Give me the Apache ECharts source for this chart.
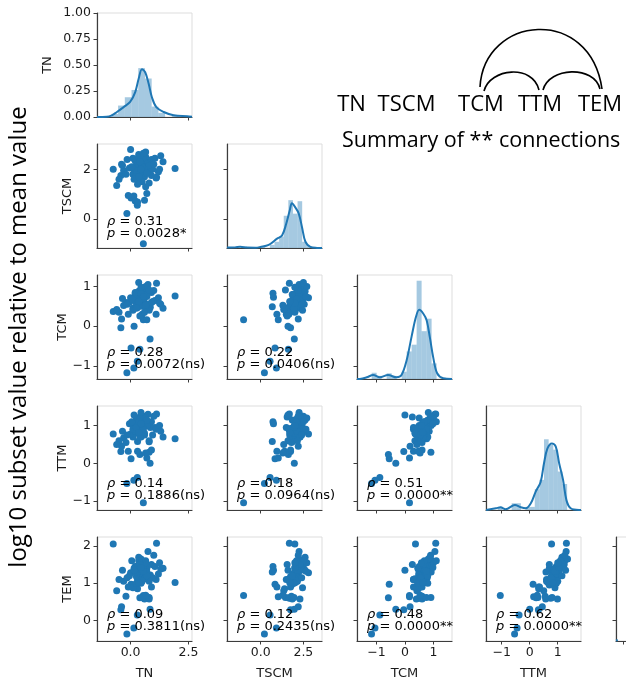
<!DOCTYPE html>
<html><head><meta charset="utf-8">
<script src="https://cdn.jsdelivr.net/npm/echarts@6/dist/echarts.min.js"></script>
<style>html,body{margin:0;padding:0;background:#fff}#c{width:626px;height:681px}</style>
</head><body><div id="c"></div>
<script>
// ---------- data ----------
const varNames = ['TN', 'TSCM', 'TCM', 'TTM', 'TEM'];

const TN = [0.55,-0.16,0.14,0.29,0.02,0.4,0.84,1.92,-0.75,1.12,-0.42,-0.39,0.2,0.6,0.3,0.7,-0.1,
0.45,0.3,0.7,0.5,0.1,0.9,0.35,0.6,-0.3,0.2,0.55,0.8,1.05,0.4,-0.5,0.65,0.25,0.0,1.3,0.5,
0.75,0.15,0.45,-0.6,0.85,0.35,0.6,1.1,0.2,0.55,-0.2,0.95,0.4,0.7,0.25,1.4,0.5,-0.05,0.65,0.3,
0.8,0.45,0.1,1.2,0.6,-0.35,0.35,0.9,0.5,0.15,0.7,0.4,1.0,0.25,0.55,-0.15,0.8,0.45,0.65,0.05,1.25,0.35];
const TSCM = [-1.0,0.22,0.92,0.55,0.84,1.62,1.97,2.03,2.0,1.68,1.75,2.2,0.72,0.75,0.68,1.03,0.95,
2.1,1.9,2.3,2.0,1.8,2.4,2.2,1.7,1.95,2.35,2.15,1.85,2.45,2.05,1.6,2.5,1.75,2.8,2.55,1.5,
2.25,2.0,1.9,1.35,2.1,2.6,2.3,1.65,2.1,2.4,1.8,2.0,1.55,2.2,2.35,2.3,1.95,2.05,2.7,1.4,
2.15,2.25,2.45,1.9,2.0,2.15,2.5,1.75,2.1,1.6,1.85,2.3,2.2,1.95,2.65,2.4,1.45,2.0,1.3,2.1,2.0,1.7];
const TCM = [0.16,-1.17,-1.05,-0.88,-0.55,-0.58,-0.32,0.76,0.37,1.08,-0.04,0.18,0.83,0.73,0.49,0.16,0.3,
0.62,0.55,0.75,0.68,0.45,0.85,0.6,0.5,0.52,0.7,0.9,0.4,0.65,0.78,0.35,0.95,0.58,0.72,0.55,0.3,
1.05,0.65,0.8,0.42,0.48,0.88,0.6,0.3,0.85,0.7,0.6,0.62,0.26,0.92,0.5,0.45,0.75,0.6,1.0,0.47,
0.55,0.82,0.4,0.72,0.35,0.7,1.1,0.6,0.5,0.0,0.8,0.65,0.9,0.45,0.75,0.55,0.91,0.98,0.53,0.68,0.58,0.62];
const TTM = [-1.05,-0.54,-0.45,-0.38,0.12,0.23,0.0,0.65,0.78,1.31,0.31,0.45,1.1,1.05,0.58,0.14,0.32,
0.88,0.8,1.0,0.95,0.7,1.1,0.9,0.75,0.68,1.05,1.2,0.57,0.95,0.85,0.6,1.25,0.92,0.78,0.85,0.95,
1.3,1.0,0.7,0.5,0.95,1.15,0.99,0.9,0.85,1.1,0.55,0.75,1.23,1.0,1.2,0.7,0.8,1.05,1.2,0.32,
0.6,1.35,0.9,0.95,0.8,0.85,1.1,0.35,1.0,1.28,1.15,0.7,1.25,0.95,0.9,0.75,0.29,1.05,0.27,1.1,1.0,0.82];
const TEM = [0.67,-0.36,-0.2,0.15,0.97,0.61,0.3,1.02,2.05,2.07,0.29,0.37,1.45,1.35,1.3,0.64,0.9,
1.2,1.1,1.4,1.3,0.95,1.5,1.25,0.6,1.05,1.35,1.55,0.58,1.45,1.15,1.1,1.6,1.18,1.28,1.38,1.1,
1.85,1.4,1.0,0.8,1.22,1.7,0.58,1.1,1.3,1.48,0.65,1.15,1.5,1.3,1.45,1.4,0.62,1.2,1.55,0.85,
1.05,1.65,0.88,1.25,1.12,1.35,1.6,0.9,1.05,1.35,1.2,1.5,1.75,1.0,1.32,1.15,0.62,1.42,0.68,1.6,1.55,1.02];

// histograms on the diagonal: first edge, bin width, bar heights (density)
const histStart = [-0.83, -1.08, -1.34, -1.14, 0];
const histWidth = [0.29, 0.27, 0.175, 0.165, 0.2];
const histTN   = [0.06,0.22,0.38,0.52,0.94,0.74,0.20,0.08,0,0.04];
const histTSCM = [0.03,0,0,0,0.03,0,0.06,0.12,0.22,0.62,0.92,0.66,0.90,0.12,0.03];
const histTCM  = [0,0.12,0.06,0,0.11,0.06,0,0.14,0.53,0.66,1.89,0.92,1.16,0.30];
const histTTM  = [0.06,0,0,0.13,0.13,0,0.06,0.06,0.4,0.58,1.36,1.25,1.16,0.74,0.5];
const histTEM  = [];

// density curves on the diagonal: [value, density]
const kdeTN = [[-1.45,0],[-1.03,0.004],[-0.81,0.032],[-0.59,0.096],[-0.30,0.19],[-0.02,0.29],[0.20,0.48],[0.35,0.74],[0.49,0.92],[0.63,0.86],[0.78,0.64],[0.92,0.38],[1.11,0.19],[1.43,0.096],[1.86,0.032],[2.44,0.014],[2.65,0.006]];
const kdeTSCM = [[-1.97,0.008],[-1.5,0.012],[-1.2,0.024],[-0.8,0.008],[-0.3,0.006],[-0.02,0.02],[0.47,0.06],[0.96,0.18],[1.25,0.24],[1.50,0.47],[1.70,0.72],[1.83,0.86],[2.03,0.78],[2.23,0.66],[2.42,0.40],[2.62,0.12],[2.91,0.02],[3.3,0.002],[3.59,0]];
const kdeTCM = [[-1.68,0],[-1.58,0.002],[-1.34,0.032],[-1.11,0.076],[-0.88,0.032],[-0.59,0.076],[-0.29,0.032],[-0.12,0.076],[0.06,0.36],[0.235,0.82],[0.39,1.2],[0.50,1.33],[0.64,1.26],[0.76,1.13],[0.88,0.78],[0.99,0.42],[1.13,0.11],[1.34,0.014],[1.65,0]];
const kdeTTM = [[-1.56,0],[-1.21,0.032],[-1.04,0.052],[-0.86,0.014],[-0.53,0.096],[-0.32,0.052],[-0.14,0.032],[0.04,0.128],[0.21,0.35],[0.39,0.54],[0.51,0.9],[0.63,1.18],[0.79,1.28],[0.93,1.22],[1.05,0.9],[1.19,0.58],[1.31,0.19],[1.46,0.032],[1.76,0],[1.83,0]];
const kdeTEM = [[-1.2,0.006],[-0.9,0.02]];

// correlation annotations, lower panels in order (row, col)
const statPanels = [[1,0],[2,0],[2,1],[3,0],[3,1],[3,2],[4,0],[4,1],[4,2],[4,3]];
const rhoVals = ['0.31','0.28','0.22','0.14','0.18','0.51','0.09','0.12','0.48','0.62'];
const pVals = ['0.0028*','0.0072(ns)','0.0406(ns)','0.1886(ns)','0.0964(ns)','0.0000**','0.3811(ns)','0.2435(ns)','0.0000**','0.0000**'];

// tick labels
const xTickVals = [[0, 2.5], [0, 2.5], [-1, 0, 1], [-1, 0, 1], [0, 1, 2]];
const yTickVals = [[0, 0.25, 0.5, 0.75, 1], [0, 2], [-1, 0, 1], [-1, 0, 1], [0, 1, 2]];

const summaryWords = ['TN', 'TSCM', 'TCM', 'TTM', 'TEM'];
const summaryTitle = 'Summary of ** connections';
const bigYLabel = 'log10 subset value relative to mean value';

// ---------- layout ----------
const cols = [TN, TSCM, TCM, TTM, TEM];
const hists = [histTN, histTSCM, histTCM, histTTM, histTEM];
const kdes = [kdeTN, kdeTSCM, kdeTCM, kdeTTM, kdeTEM];
const xRanges = [[-1.45, 2.65], [-1.97, 3.59], [-1.68, 1.65], [-1.56, 1.83], [-1.2, 2.9]];
const yRanges = [[0, 1], [-1.17, 3.02], [-1.33, 1.29], [-1.24, 1.52], [-0.55, 2.24]];
const colLeft = [97, 227, 357, 486, 616];
const rowTop = [13, 144, 275, 406, 537];
const W = 95, H = 104;
const densMax = 2;
const BLUE = '#1f77b4';
const TXT = '#1a1a1a';
const FONT = 'DejaVu Sans';
const FS = 12.5;

function fmt(v, dec) {
  const s = Math.abs(v).toFixed(dec);
  return (v < 0 ? '\u2212' : '') + s;
}
const xDecs = [1, 1, 0, 0, 0];

const grids = [], xAxes = [], yAxes = [], series = [];
let gi = 0;
for (let r = 0; r < 5; r++) {
  for (let c = 0; c <= r; c++) {
    grids.push({left: colLeft[c], top: rowTop[r], width: W, height: H, show: true,
      borderColor: '#dddddd', borderWidth: 1, backgroundColor: 'transparent'});
    const axLine = {show: true, onZero: false, lineStyle: {color: '#3c3c3c', width: 1.2}};
    const axTick = (vals) => ({show: true, length: 3.5, customValues: vals, lineStyle: {color: '#3c3c3c', width: 1}});
    const xi = xAxes.length;
    const showX = r === 4 && c < 4;
    xAxes.push({
      gridIndex: gi, type: 'value', min: xRanges[c][0], max: xRanges[c][1],
      axisLine: axLine, axisTick: axTick(xTickVals[c]), splitLine: {show: false},
      axisLabel: {show: showX, customValues: xTickVals[c], margin: 5, color: TXT, fontSize: FS, fontFamily: FONT,
        formatter: (v) => fmt(v, xDecs[c])},
      name: showX ? varNames[c] : '', nameLocation: 'middle', nameGap: 26,
      nameTextStyle: {color: TXT, fontSize: 13, fontFamily: FONT}
    });
    const yi = yAxes.length;
    yAxes.push({
      gridIndex: gi, type: 'value', min: yRanges[r][0], max: yRanges[r][1],
      axisLine: axLine, axisTick: axTick(yTickVals[r]), splitLine: {show: false},
      axisLabel: {show: c === 0, customValues: yTickVals[r], margin: 6, color: TXT, fontSize: FS, fontFamily: FONT,
        formatter: (v) => r === 0 ? v.toFixed(2) : fmt(v, 0)},
      name: c === 0 ? varNames[r] : '', nameLocation: 'middle', nameGap: r === 0 ? 43 : 23,
      nameTextStyle: {color: TXT, fontSize: 13, fontFamily: FONT}
    });
    if (r === c) {
      const di = yAxes.length;
      yAxes.push({gridIndex: gi, type: 'value', min: 0, max: densMax, show: false});
      const hd = hists[c].map((h, k) => [histStart[c] + k * histWidth[c], histStart[c] + (k + 1) * histWidth[c], h]);
      series.push({
        type: 'custom', xAxisIndex: xi, yAxisIndex: di, data: hd, silent: true, clip: true,
        encode: {x: [0, 1], y: 2},
        renderItem: function (params, api) {
          const p0 = api.coord([api.value(0), api.value(2)]);
          const p1 = api.coord([api.value(1), 0]);
          return {type: 'rect', shape: {x: p0[0], y: p0[1], width: p1[0] - p0[0], height: p1[1] - p0[1]},
            style: {fill: 'rgba(31,119,180,0.4)'}};
        }
      });
      series.push({
        type: 'line', xAxisIndex: xi, yAxisIndex: di, data: kdes[c], smooth: 0.35,
        showSymbol: false, silent: true, clip: true,
        lineStyle: {color: BLUE, width: 2}
      });
    } else {
      series.push({
        type: 'scatter', xAxisIndex: xi, yAxisIndex: yi, silent: true,
        data: cols[c].map((v, i) => [v, cols[r][i]]),
        symbolSize: 7, itemStyle: {color: BLUE, opacity: 1}
      });
    }
    gi++;
  }
}

const graphics = [];
statPanels.forEach(([r, c], k) => {
  const x = colLeft[c] + 10, yb = rowTop[r] + H;
  const rich = {i: {fontStyle: 'italic', fontSize: 13, fontFamily: FONT, fill: '#000'}};
  graphics.push({type: 'text', x: x, y: yb - 26, z: 100, silent: true,
    style: {text: '{i|\u03c1} = ' + rhoVals[k], rich: rich, fontSize: 13, fontFamily: FONT, fill: '#000', verticalAlign: 'middle'}});
  graphics.push({type: 'text', x: x, y: yb - 14.5, z: 100, silent: true,
    style: {text: '{i|p} = ' + pVals[k], rich: rich, fontSize: 13, fontFamily: FONT, fill: '#000', verticalAlign: 'middle'}});
});

// summary arc diagram
const wordX = [351.5, 406.5, 481, 540, 600];
summaryWords.forEach((w, i) => {
  graphics.push({type: 'text', x: wordX[i], y: 105, silent: true,
    style: {text: w, fontSize: 22, fontFamily: 'Open Sans', fill: '#000', align: 'center', verticalAlign: 'middle'}});
});
graphics.push({type: 'text', x: 342, y: 141, silent: true,
  style: {text: summaryTitle, fontSize: 21.5, fontFamily: 'Open Sans', fill: '#000', align: 'left', verticalAlign: 'middle'}});
const arcStyle = {stroke: '#000', lineWidth: 1.6, fill: null};
graphics.push({type: 'bezierCurve', silent: true, shape: {x1: 480, y1: 87, cpx1: 484, cpy1: 15, cpx2: 590, cpy2: 5, x2: 602, y2: 89}, style: arcStyle});
graphics.push({type: 'bezierCurve', silent: true, shape: {x1: 484, y1: 91, cpx1: 490, cpy1: 68, cpx2: 533, cpy2: 64, x2: 539, y2: 90}, style: arcStyle});
graphics.push({type: 'bezierCurve', silent: true, shape: {x1: 543, y1: 90, cpx1: 549, cpy1: 67, cpx2: 594, cpy2: 65, x2: 600, y2: 89}, style: arcStyle});

graphics.push({type: 'text', x: 19, y: 337, rotation: Math.PI / 2, silent: true,
  style: {text: bigYLabel, fontSize: 24, fontFamily: 'Open Sans', fill: '#000', align: 'center', verticalAlign: 'middle'}});

const chart = echarts.init(document.getElementById('c'), null, {renderer: 'canvas'});
chart.setOption({
  animation: false,
  backgroundColor: '#fff',
  grid: grids, xAxis: xAxes, yAxis: yAxes, series: series,
  graphic: graphics
});
</script></body></html>
